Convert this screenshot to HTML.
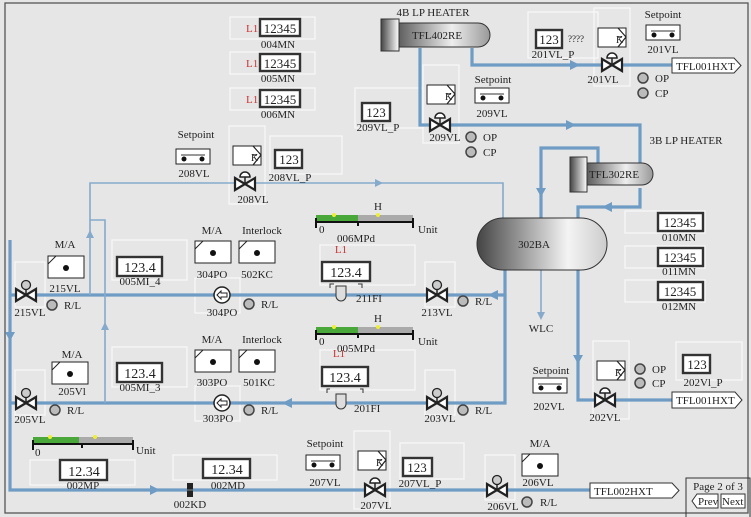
<!DOCTYPE html>
<html><head><meta charset="utf-8"><style>
html,body{margin:0;padding:0;background:#e6e6e6;}
svg{display:block;font-family:"Liberation Serif",serif;}
text{font-size:11px;fill:#222;}
.c{text-anchor:middle;}
.pk{stroke:#6f9cc4;stroke-width:3.2;fill:none;}
.pt{stroke:#86aacb;stroke-width:1.6;fill:none;}
.db{fill:#fff;stroke:#333;stroke-width:2.4;}
.gh{fill:none;stroke:#f8f8f8;stroke-width:1.2;}
.bx{fill:#fff;stroke:#222;stroke-width:1;}
</style></head><body>
<svg width="751" height="517" viewBox="0 0 751 517" xmlns="http://www.w3.org/2000/svg">
<defs>
 <g id="v"><path d="M-10,-6 L10,6 L10,-6 L-10,6 Z" fill="#fff" stroke="#222" stroke-width="2.2"/><path d="M0,0 V-7" stroke="#222" stroke-width="1.5"/><path d="M-5,-7 A5,5 0 0 1 5,-7 Z" fill="#fff" stroke="#222" stroke-width="1.5"/></g>
 <g id="vm"><path d="M-10,-6 L10,6 L10,-6 L-10,6 Z" fill="#fff" stroke="#222" stroke-width="2.2"/><path d="M0,0 V-6" stroke="#222" stroke-width="1.5"/><circle cx="0" cy="-10" r="4.5" fill="#ccc" stroke="#222" stroke-width="1.3"/></g>
 <g id="s"><circle r="5" fill="#bbb" stroke="#444" stroke-width="1.5"/></g>
 <g id="ma"><rect x="0" y="0" width="36" height="22" class="bx" stroke-width="1.2"/><path d="M0,8 L8,0" stroke="#222"/><circle cx="18" cy="12" r="3" fill="#111"/></g>
 <g id="sp"><rect x="0" y="0" width="34" height="15" class="bx" stroke-width="1.5"/><path d="M5,6 H29" stroke="#333"/><circle cx="8" cy="10" r="2.5" fill="#111"/><circle cx="26" cy="10" r="2.5" fill="#111"/></g>
 <g id="k"><rect x="0" y="0" width="28" height="19" class="bx"/><path d="M20,0 L28,9 L20,19 M20,9 L24,9" stroke="#222" fill="none" stroke-width="1.2"/><text x="18" y="15" style="font-size:10px">K</text></g>
 <g id="pump"><circle r="8" fill="#fff" stroke="#222" stroke-width="1.5"/><path d="M-5,0 L-1,-4 V-2 H5 V2 H-1 V4 Z" fill="#fff" stroke="#222"/></g>
 <g id="gk"><rect x="-4" y="-20" width="36" height="78" class="gh"/></g>
</defs>
<rect width="751" height="517" fill="#e6e6e6"/>
<rect x="5" y="3" width="743" height="510" fill="none" stroke="#555" stroke-width="1.3"/>

<!-- ghost frames -->
<use href="#gk" x="598" y="28"/><use href="#gk" x="427" y="85"/><use href="#gk" x="233" y="146"/><use href="#gk" x="597" y="361"/><use href="#gk" x="358" y="451"/>
<g class="gh">
<rect x="528" y="12" width="70" height="46"/><rect x="355" y="88" width="68" height="40"/><rect x="270" y="136" width="72" height="38"/><rect x="676" y="342" width="66" height="38"/><rect x="400" y="443" width="64" height="36"/>
<rect x="112" y="240" width="75" height="40"/><rect x="112" y="347" width="75" height="40"/><rect x="30" y="460" width="105" height="25"/><rect x="173" y="455" width="104" height="25"/>
<rect x="15" y="262" width="30" height="45"/><rect x="15" y="370" width="30" height="45"/><rect x="425" y="262" width="30" height="45"/><rect x="425" y="370" width="30" height="45"/><rect x="485" y="455" width="30" height="45"/>
<rect x="195" y="278" width="45" height="35"/><rect x="195" y="386" width="45" height="35"/><rect x="320" y="245" width="95" height="40"/><rect x="320" y="350" width="95" height="40"/>
</g>

<!-- pipes -->
<path class="pk" d="M10,240 V490 H590"/>
<path class="pk" d="M10,295 H505 V270"/>
<path class="pk" d="M10,403 H505 V295"/>
<path class="pt" d="M90,295 V183 H503 V220"/>
<path class="pt" d="M90,220 H105 V403"/>
<path class="pt" d="M541,270 V318"/>
<path class="pk" d="M578,270 V400 H672"/>
<path class="pk" d="M578,220 V207 H640 V188"/>
<path class="pk" d="M598,163 V148 H541 V220"/>
<path class="pk" d="M420,48 V125 H640 V163"/>
<path class="pk" d="M472,48 V65 H672"/>
<g fill="#6f9cc4">
<path d="M5,332 h10 l-5,9z"/><path d="M150,485 l10,5 -10,5z"/><path d="M498,290 l-10,5 10,5z"/>
<path d="M536,188 h10 l-5,9z"/><path d="M612,202 l-10,5 10,5z"/><path d="M566,120 l10,5 -10,5z"/><path d="M570,60 l10,5 -10,5z"/>
<path d="M573,355 h10 l-5,9z"/><path d="M292,398 l-10,5 10,5z"/></g>
<g fill="#86aacb"><path d="M86,238 l4,-8 4,8z"/><path d="M101,330 l4,-8 4,8z"/><path d="M375,179 l8,4 -8,4z"/><path d="M537,312 h8 l-4,8z"/></g>

<defs><linearGradient id="g" x1="0" x2="1"><stop offset="0" stop-color="#555"/><stop offset=".6" stop-color="#eee"/><stop offset="1" stop-color="#999"/></linearGradient>
<linearGradient id="g2" x1="0" x2="1"><stop offset="0" stop-color="#444"/><stop offset="1" stop-color="#fff"/></linearGradient>
<linearGradient id="g3" x1="0" x2="1"><stop offset="0" stop-color="#444"/><stop offset=".7" stop-color="#f4f4f4"/><stop offset="1" stop-color="#ccc"/></linearGradient></defs>
<text x="433" y="16" class="c">4B LP HEATER</text>
<path d="M395,23 H478 A12,12 0 0 1 478,47 H395 Z" fill="url(#g)" stroke="#333"/>
<rect x="381" y="19" width="18" height="32" fill="url(#g2)" stroke="#333"/>
<text x="437" y="39" class="c">TFL402RE</text>
<text x="686" y="144" class="c">3B LP HEATER</text>
<path d="M585,163 H642 A11,11 0 0 1 642,185 H585 Z" fill="url(#g)" stroke="#333"/>
<rect x="570" y="157" width="17" height="35" fill="url(#g2)" stroke="#333"/>
<text x="614" y="178" class="c">TFL302RE</text>
<rect x="477" y="218" width="130" height="52" rx="26" fill="url(#g3)" stroke="#333"/>
<text x="534" y="248" class="c">302BA</text>
<text x="541" y="332" class="c">WLC</text>

<g>
<rect x="230" y="17" width="85" height="22" class="gh"/><rect x="260" y="19" width="40" height="17" class="db"/><text x="280" y="33" class="c" style="font-size:13px">12345</text><text x="246" y="32" style="fill:#c33;font-size:11px">L1</text><text x="278" y="48" class="c">004MN</text>
<rect x="230" y="52" width="85" height="22" class="gh"/><rect x="260" y="54" width="40" height="17" class="db"/><text x="280" y="68" class="c" style="font-size:13px">12345</text><text x="246" y="67" style="fill:#c33;font-size:11px">L1</text><text x="278" y="82" class="c">005MN</text>
<rect x="230" y="88" width="85" height="22" class="gh"/><rect x="260" y="90" width="40" height="17" class="db"/><text x="280" y="104" class="c" style="font-size:13px">12345</text><text x="246" y="103" style="fill:#c33;font-size:11px">L1</text><text x="278" y="118" class="c">006MN</text>
<rect x="625" y="211" width="80" height="22" class="gh"/><rect x="658" y="213" width="45" height="18" class="db"/><text x="680" y="227" class="c" style="font-size:13px">12345</text><text x="679" y="241" class="c">010MN</text>
<rect x="625" y="246" width="80" height="22" class="gh"/><rect x="658" y="248" width="45" height="18" class="db"/><text x="680" y="262" class="c" style="font-size:13px">12345</text><text x="679" y="275" class="c">011MN</text>
<rect x="625" y="280" width="80" height="22" class="gh"/><rect x="658" y="282" width="45" height="18" class="db"/><text x="680" y="296" class="c" style="font-size:13px">12345</text><text x="679" y="310" class="c">012MN</text>
</g>

<rect x="536" y="30" width="26" height="18" class="db"/><text x="549" y="44" class="c" style="font-size:13px">123</text>
<text x="568" y="42" style="font-size:9px">????</text><text x="553" y="58" class="c">201VL_P</text>
<use href="#k" x="598" y="28"/>
<text x="663" y="18" class="c">Setpoint</text><use href="#sp" x="646" y="25"/><text x="663" y="53" class="c">201VL</text>
<use href="#v" x="612" y="65"/><text x="603" y="83" class="c">201VL</text>
<use href="#s" x="643" y="78"/><text x="655" y="82">OP</text><use href="#s" x="643" y="93"/><text x="655" y="97">CP</text>
<path d="M672,58 H734 L741,65.5 L734,73 H672 Z" fill="#fff" stroke="#333"/><text x="676" y="70">TFL001HXT</text>

<rect x="362" y="103" width="28" height="18" class="db"/><text x="376" y="117" class="c" style="font-size:13px">123</text><text x="378" y="131" class="c">209VL_P</text>
<use href="#k" x="427" y="85"/>
<text x="493" y="83" class="c">Setpoint</text><use href="#sp" x="475" y="88"/><text x="492" y="117" class="c">209VL</text>
<use href="#v" x="440" y="125"/><text x="445" y="141" class="c">209VL</text>
<use href="#s" x="471" y="137"/><text x="483" y="141">OP</text><use href="#s" x="471" y="152"/><text x="483" y="156">CP</text>

<text x="196" y="138" class="c">Setpoint</text><use href="#sp" x="176" y="149"/><text x="194" y="177" class="c">208VL</text>
<use href="#k" x="233" y="146"/>
<rect x="275" y="150" width="27" height="18" class="db"/><text x="289" y="164" class="c" style="font-size:13px">123</text><text x="290" y="181" class="c">208VL_P</text>
<use href="#v" x="245" y="184"/><text x="253" y="203" class="c">208VL</text>

<g>
<rect x="316" y="215" width="42" height="7" fill="#4aa83a"/><rect x="358" y="215" width="55" height="7" fill="#aaa"/><path d="M316,222 H413 M316,218 V228 M413,218 V228 M358,222 V226" stroke="#111" stroke-width="2" fill="none"/>
<circle cx="334" cy="215" r="2" fill="#ee3"/><circle cx="378" cy="215" r="2" fill="#ee3"/>
<text x="378" y="210" class="c">H</text><text x="319" y="233">0</text><text x="356" y="242" class="c">006MPd</text><text x="418" y="233">Unit</text>
<rect x="316" y="327" width="42" height="7" fill="#4aa83a"/><rect x="358" y="327" width="55" height="7" fill="#aaa"/><path d="M316,334 H413 M316,330 V340 M413,330 V340 M358,334 V338" stroke="#111" stroke-width="2" fill="none"/>
<circle cx="334" cy="327" r="2" fill="#ee3"/><circle cx="378" cy="327" r="2" fill="#ee3"/>
<text x="378" y="322" class="c">H</text><text x="319" y="345">0</text><text x="356" y="352" class="c">005MPd</text><text x="418" y="345">Unit</text>
<rect x="33" y="437" width="46" height="7" fill="#4aa83a"/><rect x="79" y="437" width="54" height="7" fill="#aaa"/><path d="M33,444 H133 M33,440 V450 M133,440 V450 M82,444 V448" stroke="#111" stroke-width="2" fill="none"/>
<circle cx="50" cy="437" r="2" fill="#ee3"/><circle cx="95" cy="437" r="2" fill="#ee3"/>
<text x="35" y="456">0</text><text x="136" y="454">Unit</text>
</g>

<text x="341" y="253" class="c" style="fill:#c33">L1</text>
<rect x="322" y="262" width="48" height="19" class="db"/><text x="346" y="277" class="c" style="font-size:14px">123.4</text>
<path d="M334,284 h-4 v4 M358,284 h4 v4" stroke="#333" fill="none"/>
<path d="M336,286 h10 v10 a5,5 0 0 1 -10,0z" fill="#ddd" stroke="#333"/><text x="356" y="302">211FI</text>
<text x="339" y="357" class="c" style="fill:#c33">L1</text>
<rect x="322" y="367" width="46" height="19" class="db"/><text x="345" y="382" class="c" style="font-size:14px">123.4</text>
<path d="M330,389 h-3 v4 M360,389 h3 v4" stroke="#333" fill="none"/>
<path d="M336,394 h10 v10 a5,5 0 0 1 -10,0z" fill="#ddd" stroke="#333"/><text x="354" y="412">201FI</text>

<text x="65" y="248" class="c">M/A</text><use href="#ma" x="48" y="256"/><text x="65" y="292" class="c">215VL</text>
<rect x="117" y="257" width="45" height="19" class="db"/><text x="140" y="272" class="c" style="font-size:14px">123.4</text><text x="140" y="285" class="c">005MI_4</text>
<text x="212" y="234" class="c">M/A</text><use href="#ma" x="195" y="241"/><text x="212" y="278" class="c">304PO</text>
<text x="262" y="234" class="c">Interlock</text><use href="#ma" x="239" y="241"/><text x="257" y="278" class="c">502KC</text>
<use href="#vm" x="26" y="295"/><text x="30" y="316" class="c">215VL</text><use href="#s" x="52" y="305"/><text x="64" y="309">R/L</text>
<use href="#pump" x="222" y="295"/><text x="222" y="316" class="c">304PO</text><use href="#s" x="249" y="304"/><text x="261" y="308">R/L</text>
<use href="#vm" x="437" y="295"/><text x="437" y="316" class="c">213VL</text><use href="#s" x="463" y="301"/><text x="475" y="305">R/L</text>

<text x="72" y="358" class="c">M/A</text><use href="#ma" x="52" y="362"/><text x="72" y="395" class="c">205Vl</text>
<rect x="117" y="363" width="45" height="19" class="db"/><text x="140" y="378" class="c" style="font-size:14px">123.4</text><text x="140" y="391" class="c">005MI_3</text>
<text x="212" y="343" class="c">M/A</text><use href="#ma" x="195" y="350"/><text x="212" y="386" class="c">303PO</text>
<text x="262" y="343" class="c">Interlock</text><use href="#ma" x="239" y="350"/><text x="259" y="386" class="c">501KC</text>
<use href="#vm" x="26" y="403"/><text x="30" y="423" class="c">205VL</text><use href="#s" x="55" y="410"/><text x="67" y="414">R/L</text>
<use href="#pump" x="222" y="403"/><text x="218" y="422" class="c">303PO</text><use href="#s" x="249" y="410"/><text x="261" y="414">R/L</text>
<use href="#vm" x="437" y="403"/><text x="440" y="422" class="c">203VL</text><use href="#s" x="463" y="410"/><text x="475" y="414">R/L</text>

<text x="551" y="374" class="c">Setpoint</text><use href="#sp" x="533" y="378"/><text x="549" y="410" class="c">202VL</text>
<use href="#k" x="597" y="361"/>
<use href="#v" x="605" y="400"/><text x="605" y="421" class="c">202VL</text>
<use href="#s" x="640" y="369"/><text x="652" y="373">OP</text><use href="#s" x="640" y="383"/><text x="652" y="387">CP</text>
<rect x="683" y="355" width="27" height="18" class="db"/><text x="697" y="369" class="c" style="font-size:13px">123</text><text x="703" y="386" class="c">202Vl_P</text>
<path d="M672,392 H735 L742,400 L735,408 H672 Z" fill="#fff" stroke="#333"/><text x="676" y="404">TFL001HXT</text>

<rect x="60" y="460" width="47" height="20" class="db"/><text x="84" y="476" class="c" style="font-size:14px">12.34</text><text x="83" y="489" class="c">002MP</text>
<rect x="203" y="459" width="47" height="19" class="db"/><text x="227" y="474" class="c" style="font-size:14px">12.34</text><text x="228" y="489" class="c">002MD</text>
<rect x="187" y="483" width="6" height="14" fill="#222"/><path d="M187,490 h6" stroke="#888"/><text x="190" y="508" class="c">002KD</text>
<text x="325" y="447" class="c">Setpoint</text><use href="#sp" x="306" y="455"/><text x="325" y="486" class="c">207VL</text>
<use href="#k" x="358" y="451"/>
<use href="#v" x="375" y="490"/><text x="376" y="509" class="c">207VL</text>
<rect x="403" y="458" width="29" height="18" class="db"/><text x="417" y="472" class="c" style="font-size:13px">123</text><text x="420" y="487" class="c">207VL_P</text>
<text x="540" y="447" class="c">M/A</text><use href="#ma" x="522" y="454"/><text x="538" y="486" class="c">206VL</text>
<use href="#vm" x="497" y="490"/><text x="503" y="510" class="c">206VL</text><use href="#s" x="527" y="502"/><text x="540" y="506">R/L</text>
<path d="M590,483 H672 L679,490.5 L672,498 H590 Z" fill="#fff" stroke="#333"/><text x="594" y="495">TFL002HXT</text>

<rect x="686" y="478" width="64" height="40" fill="none" stroke="#333"/>
<text x="718" y="490" class="c">Page 2 of 3</text>
<path d="M697,494 H718 V508 H697 L692,501 Z" fill="#fff" stroke="#333"/><text x="698" y="505">Prev</text>
<path d="M721,494 H745 V508 H721 Z" fill="#fff" stroke="#333"/><text x="722" y="505">Next</text>
</svg>
</body></html>
